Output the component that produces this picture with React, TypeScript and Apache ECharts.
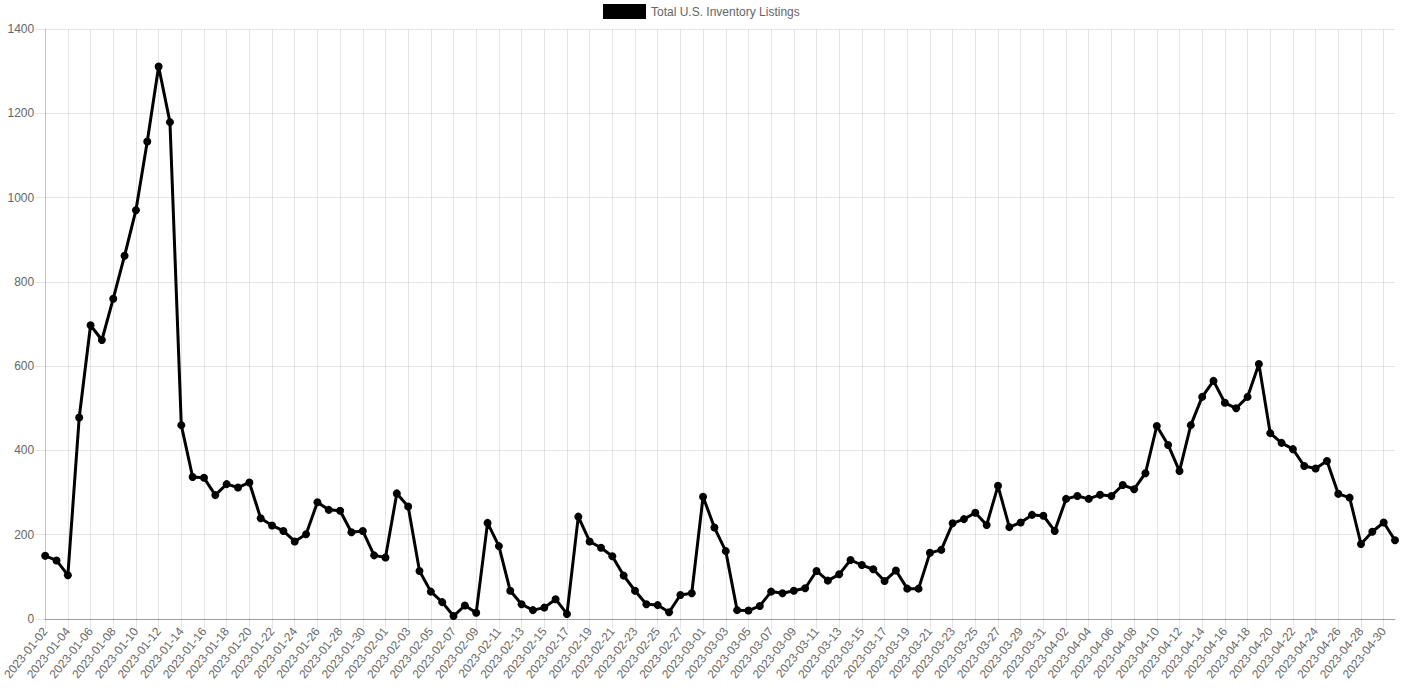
import React, { useEffect, useRef } from "react";
import * as echarts from "echarts";

const seriesName = "Total U.S. Inventory Listings";

const startDate = "2023-01-02";

// One value per day, 2023-01-02 .. 2023-05-01
const listings: number[] = [
  150, 139, 104, 478, 697, 662, 760, 862, 970, 1133,
  1311, 1179, 460, 337, 335, 294, 320, 312, 324, 239,
  222, 209, 184, 201, 277, 259, 257, 206, 209, 151,
  146, 298, 267, 114, 65, 40, 7, 32, 15, 228,
  173, 67, 35, 21, 27, 47, 12, 243, 184, 169,
  149, 103, 67, 35, 33, 16, 57, 61, 290, 217,
  161, 21, 20, 31, 65, 61, 67, 73, 114, 91,
  106, 140, 128, 118, 90, 115, 72, 72, 157, 164,
  227, 237, 252, 223, 316, 218, 229, 247, 245, 209,
  285, 292, 285, 295, 292, 318, 308, 346, 458, 413,
  351, 460, 527, 565, 513, 500, 527, 605, 441, 418,
  403, 363, 357, 375, 297, 288, 178, 207, 229, 187,
];

const yTicks = [0, 200, 400, 600, 800, 1000, 1200, 1400];

function buildDates(start: string, n: number): string[] {
  const out: string[] = [];
  const d = new Date(start + "T00:00:00Z");
  for (let i = 0; i < n; i++) {
    const t = new Date(d.getTime() + i * 86400000);
    out.push(t.toISOString().slice(0, 10));
  }
  return out;
}

const dates = buildDates(startDate, listings.length);

export default function App() {
  const ref = useRef<HTMLDivElement>(null);
  useEffect(() => {
    if (!ref.current) return;
    const chart = echarts.init(ref.current, null, { renderer: "svg" });
    const font = "'Liberation Sans', Arial, Helvetica, sans-serif";
    const grid = "rgba(0,0,0,0.1)";
    chart.setOption({
      animation: false,
      textStyle: { fontFamily: font },
      legend: {
        top: 4,
        left: 603,
        padding: 0,
        icon: "rect",
        itemWidth: 43,
        itemHeight: 15,
        itemGap: 5,
        textStyle: { color: "#666", fontSize: 12, fontFamily: font },
        data: [seriesName],
      },
      grid: { left: 44, right: 13, top: 29, bottom: 78, containLabel: false },
      xAxis: {
        type: "category",
        data: dates,
        boundaryGap: false,
        axisLine: { show: true, lineStyle: { color: "rgba(0,0,0,0.3)", width: 1 } },
        axisTick: { show: true, interval: 1, length: 10, lineStyle: { color: grid } },
        splitLine: { show: true, interval: 1, lineStyle: { color: grid, width: 1 } },
        axisLabel: {
          interval: 1,
          rotate: 51,
          margin: 10,
          color: "#666",
          fontSize: 12,
          fontFamily: font,
        },
      },
      yAxis: {
        type: "value",
        min: yTicks[0],
        max: yTicks[yTicks.length - 1],
        interval: 200,
        axisLine: { show: true, lineStyle: { color: "rgba(0,0,0,0.15)", width: 1 } },
        axisTick: { show: true, length: 10, lineStyle: { color: grid } },
        splitLine: { show: true, lineStyle: { color: grid, width: 1 } },
        axisLabel: {
          color: "#666",
          fontSize: 12,
          margin: 11,
          fontFamily: font,
          formatter: (v: number) => String(v),
        },
      },
      series: [
        {
          name: seriesName,
          type: "line",
          data: listings,
          symbol: "circle",
          symbolSize: 8,
          showSymbol: true,
          showAllSymbol: true,
          itemStyle: { color: "#000" },
          lineStyle: { color: "#000", width: 3 },
        },
      ],
    });
    return () => chart.dispose();
  }, []);
  return (
    <div
      ref={ref}
      style={{ position: "absolute", left: 0, top: 0, width: 1408, height: 697 }}
    />
  );
}
